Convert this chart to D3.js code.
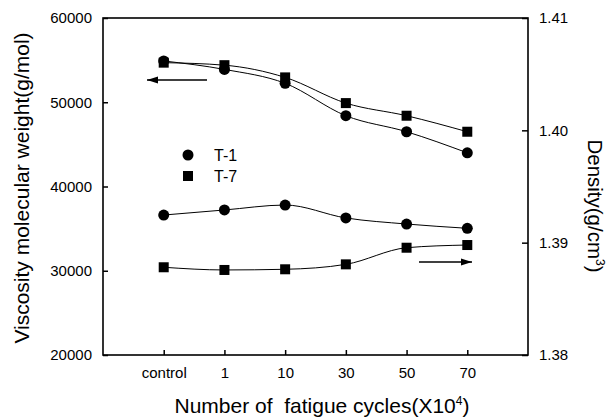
<!DOCTYPE html>
<html><head><meta charset="utf-8">
<script src="https://cdn.jsdelivr.net/npm/d3@7"></script>
<style>body{margin:0;background:#fff}text{font-family:"Liberation Sans",Arial,sans-serif;fill:#000}</style>
</head><body><svg id="c" width="606" height="419"></svg>
<script>
const categories = ["control","1","10","30","50","70"];
const mwT1 = [54900, 53900, 52250, 48400, 46500, 44000];
const mwT7 = [54700, 54400, 52950, 49900, 48400, 46500];
const denT1 = [1.39246, 1.39291, 1.39335, 1.39220, 1.39166, 1.39128];
const denT7 = [1.38781, 1.38757, 1.38763, 1.38807, 1.38955, 1.38979];
const leftTicks = [20000,30000,40000,50000,60000];
const rightTicks = [1.38,1.39,1.40,1.41];

const svg = d3.select("#c");
const L=103,R=528,T=18,B=355;
const x = d3.scaleLinear().domain([0,categories.length+1]).range([L,R]);
const yL = d3.scaleLinear().domain([20000,60000]).range([B,T]);
const yR = d3.scaleLinear().domain([1.38,1.41]).range([B,T]);
const g = svg.append("g");

g.append("rect").attr("x",L).attr("y",T).attr("width",R-L).attr("height",B-T).attr("fill","none").attr("stroke","#000").attr("stroke-width",1.6);

const ax = g.append("g").attr("transform",`translate(0,${B})`).call(d3.axisBottom(x).tickValues(categories.map((d,i)=>i+1)).tickFormat(i=>categories[i-1]).tickSize(-5).tickPadding(12));
const axL = g.append("g").attr("transform",`translate(${L},0)`).call(d3.axisLeft(yL).tickValues(leftTicks).tickFormat(d3.format("d")).tickSize(-5).tickPadding(11));
const axR = g.append("g").attr("transform",`translate(${R},0)`).call(d3.axisRight(yR).tickValues(rightTicks).tickFormat(d3.format(".2f")).tickSize(-6).tickPadding(11));
[ax,axL,axR].forEach(a=>{a.select(".domain").remove();a.selectAll("line").attr("stroke-width",1.5);a.selectAll("text").style("font-size","15px").attr("font-family",null);});

const line = (ys, arr) => d3.line().x((d,i)=>x(i+1)).y(d=>ys(d)).curve(d3.curveMonotoneX)(arr);
[[yL,mwT1],[yL,mwT7],[yR,denT1],[yR,denT7]].forEach(([s,a])=>{
  g.append("path").attr("d",line(s,a)).attr("fill","none").attr("stroke","#000").attr("stroke-width",1);
});
function circles(s,a){g.selectAll(null).data(a).enter().append("circle").attr("cx",(d,i)=>x(i+1)).attr("cy",d=>s(d)).attr("r",5.5).attr("fill","#000");}
function squares(s,a){g.selectAll(null).data(a).enter().append("rect").attr("x",(d,i)=>x(i+1)-5).attr("y",d=>s(d)-5).attr("width",10).attr("height",10).attr("fill","#000");}
squares(yL,mwT7); circles(yL,mwT1); circles(yR,denT1); squares(yR,denT7);

// legend
g.append("circle").attr("cx",188).attr("cy",155).attr("r",5.5);
g.append("text").attr("x",214).attr("y",160.5).text("T-1").style("font-size","16px");
g.append("rect").attr("x",183).attr("y",171).attr("width",10).attr("height",10);
g.append("text").attr("x",214).attr("y",181.5).text("T-7").style("font-size","16px");

function arrow(x1,x2,y){
  g.append("line").attr("x1",x1).attr("x2",x2).attr("y1",y).attr("y2",y).attr("stroke","#000").attr("stroke-width",1.5);
  const d = x2>x1?-1:1;
  g.append("path").attr("d",`M${x2},${y}L${x2+d*11},${y-3.5}L${x2+d*11},${y+3.5}Z`).attr("fill","#000");
}
arrow(207,147,80);
arrow(419,472,262);

svg.append("text").attr("x",322).attr("y",413).attr("text-anchor","middle").style("font-size","21px").style("white-space","pre")
  .html('Number of  fatigue cycles(X10<tspan dy="-8" style="font-size:12px">4</tspan><tspan dy="8">)</tspan>');
svg.append("text").attr("transform","translate(29,188) rotate(-90)").attr("text-anchor","middle").style("font-size","21px").text("Viscosity molecular weight(g/mol)");
svg.append("text").attr("transform","translate(588,206) rotate(90)").attr("text-anchor","middle").style("font-size","20.5px")
  .html('Density(g/cm<tspan dy="-8" style="font-size:12px">3</tspan><tspan dy="8">)</tspan>');
</script></body></html>
